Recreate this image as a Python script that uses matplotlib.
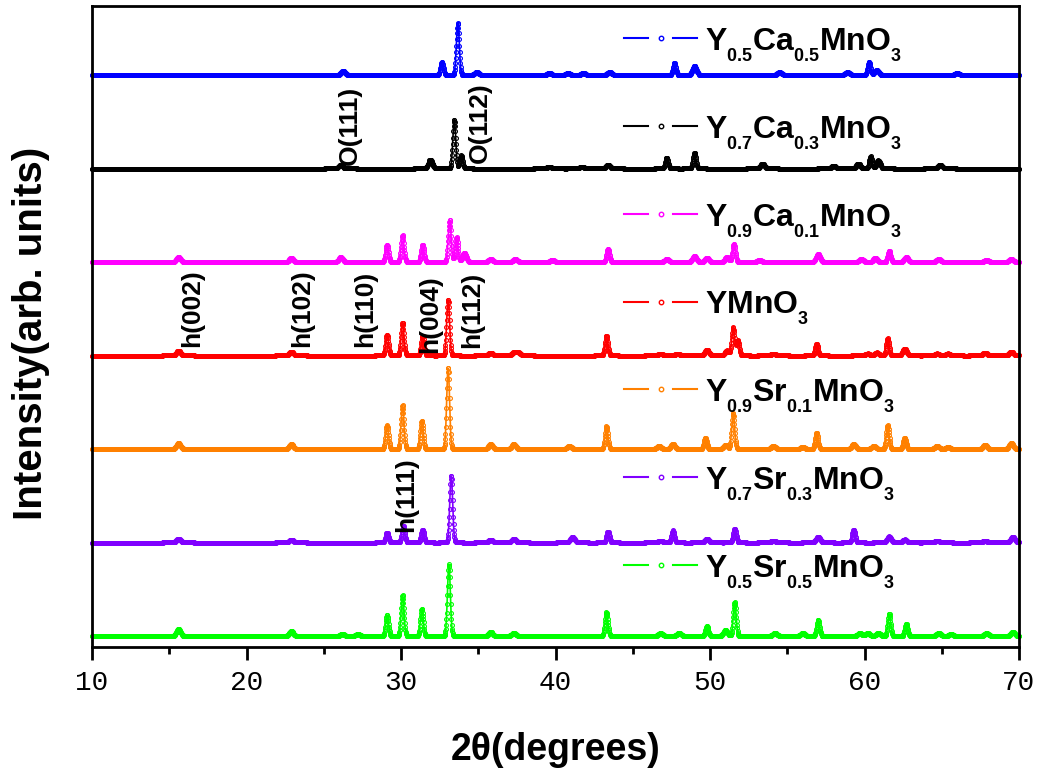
import numpy as np
import matplotlib
matplotlib.use("Agg")
import matplotlib.pyplot as plt
from matplotlib.ticker import MultipleLocator

plt.rcParams["mathtext.fontset"] = "custom"
for key in ("rm", "it", "bf", "sf"):
    plt.rcParams[f"mathtext.{key}"] = "Liberation Sans:bold"
try:
    # smaller, lower sub-scripts in the chemical formulas
    import matplotlib._mathtext as _mt
    _mt.SHRINK_FACTOR = 0.56
    _mt.FontConstantsBase.sub1 = 0.7
except Exception:
    pass

# ---- diffraction data: peak positions (2theta, deg) and intensities (arb. units) ----
y55ca_pos = [26.25, 32.65, 33.68, 34.9, 39.6, 40.8, 41.8, 43.5, 47.7, 49.0, 54.5, 58.9, 60.3, 60.8, 66.0]
y55ca_int = [4, 13, 52, 3, 2, 2, 2, 3, 12, 9, 3, 3, 13, 5, 2]

y73ca_pos = [26.1, 31.9, 33.45, 33.9, 39.6, 41.7, 43.4, 47.2, 49.0, 53.4, 58.0, 59.6, 60.4, 60.9, 64.9]
y73ca_int = [4, 9, 49, 13, 2, 2, 4, 11, 16, 5, 3, 5, 12, 8, 4]

y91ca_pos = [15.6, 22.9, 26.1, 29.1, 30.1, 31.4, 33.15, 33.6, 34.1, 35.8, 37.4, 39.8, 43.4, 47.2,
             49.0, 49.8, 51.1, 51.55, 53.2, 57.0, 59.8, 60.7, 61.6, 62.7, 64.8, 67.9, 69.5]
y91ca_int = [5, 4, 5, 17, 27, 17, 42, 25, 9, 3, 3, 2, 13, 3,
             6, 4, 5, 18, 2, 8, 3, 4, 11, 5, 3, 2, 3]

ymno_pos = [15.6, 22.9, 29.1, 30.1, 31.4, 33.05, 35.8, 37.3, 37.6, 43.3, 46.8, 47.9, 49.8,
            51.1, 51.5, 51.8, 54.1, 56.9, 60.2, 60.8, 61.5, 62.6, 64.7, 65.4, 67.8, 69.5]
ymno_int = [5, 4, 21, 33, 20, 56, 3, 3, 3, 20, 2, 2, 6,
            5, 28, 15, 2, 12, 2, 3, 17, 7, 2, 2, 3, 4]

y91sr_pos = [15.6, 22.9, 29.1, 30.1, 31.35, 33.05, 35.8, 37.3, 40.9, 43.3, 46.7, 47.6, 49.7,
             51.0, 51.5, 54.1, 56.0, 56.9, 59.3, 60.6, 61.5, 62.6, 64.7, 65.4, 67.8, 69.5]
y91sr_int = [6, 5, 24, 44, 28, 81, 5, 5, 3, 23, 3, 5, 11,
             4, 36, 3, 2, 16, 5, 3, 24, 11, 3, 2, 4, 6]

y73sr_pos = [15.6, 22.9, 29.1, 30.15, 31.4, 33.25, 35.8, 37.3, 41.1, 43.4, 46.8, 47.6, 49.8,
             51.6, 54.1, 57.0, 59.3, 61.6, 62.6, 64.7, 67.8, 69.6]
y73sr_int = [4, 3, 10, 17, 13, 67, 3, 4, 6, 11, 2, 12, 4,
             14, 2, 6, 13, 6, 3, 2, 2, 6]

y55sr_pos = [15.6, 22.9, 26.2, 27.2, 29.1, 30.1, 31.35, 33.1, 35.8, 37.3, 43.3, 46.8, 48.0, 49.8,
             51.0, 51.6, 54.2, 56.0, 57.0, 59.7, 60.2, 60.9, 61.6, 62.7, 64.8, 65.6, 67.9, 69.6]
y55sr_int = [7, 5, 2, 2, 21, 41, 27, 72, 4, 3, 24, 3, 3, 10,
             6, 34, 3, 3, 16, 3, 3, 3, 22, 12, 3, 2, 3, 4]

labels = [
    r"Y$_{0.5}$Ca$_{0.5}$MnO$_3$",
    r"Y$_{0.7}$Ca$_{0.3}$MnO$_3$",
    r"Y$_{0.9}$Ca$_{0.1}$MnO$_3$",
    r"YMnO$_3$",
    r"Y$_{0.9}$Sr$_{0.1}$MnO$_3$",
    r"Y$_{0.7}$Sr$_{0.3}$MnO$_3$",
    r"Y$_{0.5}$Sr$_{0.5}$MnO$_3$",
]
colors = ["#0000FF", "#000000", "#FF00FF", "#FF0000", "#FF8000", "#8000FF", "#00FF00"]
peak_sets = [
    (y55ca_pos, y55ca_int), (y73ca_pos, y73ca_int), (y91ca_pos, y91ca_int),
    (ymno_pos, ymno_int), (y91sr_pos, y91sr_int), (y73sr_pos, y73sr_int),
    (y55sr_pos, y55sr_int),
]

# reflection labels: text, 2theta position, vertical anchor (arb. units)
hkl_text = ["O(111)", "O(112)", "h(002)", "h(102)", "h(110)", "h(004)", "h(112)", "h(111)"]
hkl_x = [26.7, 35.1, 16.5, 23.6, 27.7, 31.9, 34.6, 30.3]
hkl_y = [471, 473, 289, 289, 289, 283, 288, 104]

STEP = 93.5                                   # vertical stacking step
two_theta = np.arange(10.0, 70.0001, 0.02)    # scan grid


def profile(pos, ints):
    """Gaussian peak profile summed on the scan grid."""
    y = np.zeros_like(two_theta)
    for p, h in zip(pos, ints):
        fwhm = 0.22 if h >= 10 else 0.3
        s = fwhm / 2.3548
        y += h * np.exp(-0.5 * ((two_theta - p) / s) ** 2)
    return y


fig = plt.figure(figsize=(10.39, 7.71), dpi=100)
ax = fig.add_axes([92 / 1039, 1 - 647 / 771, 927 / 1039, 641 / 771])

n = len(labels)
for i, ((pos, ints), col) in enumerate(zip(peak_sets, colors)):
    offset = (n - 1 - i) * STEP
    ax.plot(two_theta, profile(pos, ints) + offset, color=col, lw=1.2,
            marker="o", ms=2.8, mfc="none", mec=col, mew=0.8, clip_on=False)

ax.set_xlim(10, 70)
ax.set_ylim(-11, 630)

# stacked legend, one row next to each pattern
leg_y0, leg_dy = 0.950, 0.137
for i, (lab, col) in enumerate(zip(labels, colors)):
    yy = leg_y0 - i * leg_dy
    ax.plot([0.574, 0.600], [yy, yy], transform=ax.transAxes, color=col, lw=1.5, clip_on=False)
    ax.plot([0.627, 0.653], [yy, yy], transform=ax.transAxes, color=col, lw=1.5, clip_on=False)
    ax.plot([0.6135], [yy], transform=ax.transAxes, marker="o", ms=3.2, mfc="none",
            mec=col, mew=1.0, ls="none", clip_on=False)
    ax.text(0.661, yy - 0.0187, lab, transform=ax.transAxes, fontsize=23,
            fontweight="bold", family="Liberation Sans", va="baseline", ha="left")

for t, x, y in zip(hkl_text, hkl_x, hkl_y):
    ax.text(x, y, t, rotation=90, ha="center", va="bottom", fontsize=19,
            fontweight="bold", family="Liberation Sans")

for side in ("left", "right", "top", "bottom"):
    ax.spines[side].set_linewidth(2.0)

ax.xaxis.set_major_locator(MultipleLocator(10))
ax.xaxis.set_minor_locator(MultipleLocator(5))
ax.tick_params(axis="x", which="major", direction="out", length=9.5, width=2.0, pad=7,
               labelsize=20, top=False)
ax.tick_params(axis="x", which="minor", direction="out", length=5, width=2.0, top=False)
for lbl in ax.get_xticklabels():
    lbl.set_family("Liberation Mono")
ax.set_yticks([])

ax.set_xlabel("2θ(degrees)", fontsize=27, fontweight="bold", family="Liberation Sans",
              va="baseline")
ax.xaxis.set_label_coords(0.5, (647 - 760) / 641)
ax.set_ylabel("Intensity(arb. units)", fontsize=29, fontweight="bold",
              family="Liberation Sans", va="center")
ax.yaxis.set_label_coords((31 - 92) / 927, (647 - 333) / 641)

fig.savefig("out.png", dpi=100)
